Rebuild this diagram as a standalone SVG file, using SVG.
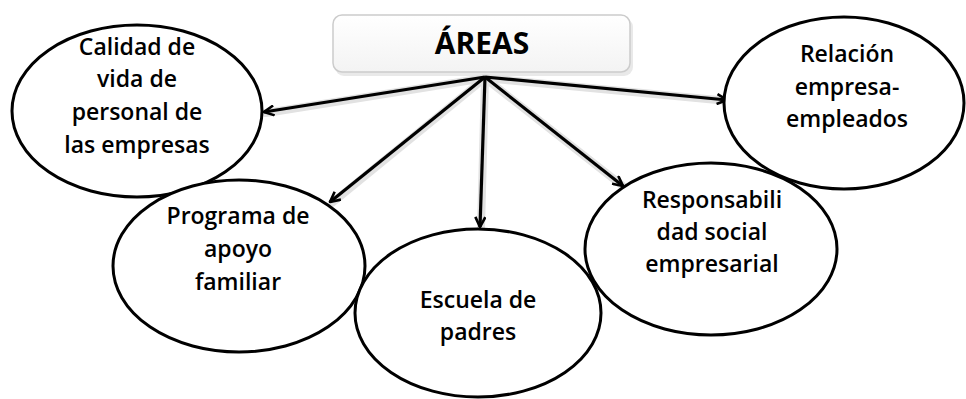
<svg xmlns="http://www.w3.org/2000/svg" width="966" height="399" viewBox="0 0 966 399">
<style>
.node ellipse{fill:#fff;stroke:#000;stroke-width:3}
.lbl{font-family:"Open Sans","Liberation Sans",sans-serif;font-weight:600;font-size:23px;fill:#000;text-anchor:middle}
.title{font-family:"Open Sans","Liberation Sans",sans-serif;font-weight:700;font-size:30px;fill:#000;text-anchor:middle}
.glow{stroke:#e2e2e2;stroke-width:8;fill:none;stroke-linecap:round}
.edge{stroke:#000;stroke-width:3.2;fill:none}
</style>
<defs>
<marker id="ah" viewBox="0 0 12 12" refX="11" refY="6" markerWidth="12" markerHeight="12" markerUnits="userSpaceOnUse" orient="auto">
<polyline points="1,1 11,6 1,11" fill="none" stroke="#000" stroke-width="2.6" stroke-linejoin="miter"/>
</marker>
<linearGradient id="boxg" x1="0" y1="0" x2="0" y2="1">
<stop offset="0" stop-color="#ffffff"/>
<stop offset="1" stop-color="#f3f3f3"/>
</linearGradient>
</defs>
<g id="areas">
<rect x="335" y="18" width="298" height="58" rx="9" fill="#e9e9e9"/>
<rect x="333" y="15" width="297" height="57" rx="9" fill="url(#boxg)" stroke="#cccccc" stroke-width="1.5"/>
<text class="title" x="482" y="54">ÁREAS</text>
</g>
<g id="connectors">
<g>
<line class="glow" x1="485" y1="78" x2="266" y2="113"/>
<line class="glow" x1="485" y1="78" x2="332" y2="203"/>
<line class="glow" x1="485" y1="78" x2="481" y2="228"/>
<line class="glow" x1="485" y1="78" x2="624" y2="187"/>
<line class="glow" x1="485" y1="78" x2="728" y2="101"/>
</g>
<line class="edge" x1="485" y1="77" x2="264" y2="112" marker-end="url(#ah)"/>
<line class="edge" x1="485" y1="77" x2="330" y2="202" marker-end="url(#ah)"/>
<line class="edge" x1="485" y1="77" x2="480" y2="227" marker-end="url(#ah)"/>
<line class="edge" x1="485" y1="77" x2="623" y2="186" marker-end="url(#ah)"/>
<line class="edge" x1="485" y1="77" x2="727" y2="100" marker-end="url(#ah)"/>
</g>
<g id="calidad" class="node">
<ellipse cx="137" cy="111" rx="125" ry="86"/>
<text class="lbl" x="137" y="55">Calidad de</text>
<text class="lbl" x="137" y="87">vida de</text>
<text class="lbl" x="137" y="120">personal de</text>
<text class="lbl" x="137" y="153">las empresas</text>
</g>
<g id="relacion" class="node">
<ellipse cx="844" cy="103" rx="120" ry="86"/>
<text class="lbl" x="847" y="62">Relación</text>
<text class="lbl" x="847" y="95">empresa-</text>
<text class="lbl" x="847" y="127">empleados</text>
</g>
<g id="programa" class="node">
<ellipse cx="239" cy="266" rx="126" ry="86"/>
<text class="lbl" x="238" y="224">Programa de</text>
<text class="lbl" x="238" y="257">apoyo</text>
<text class="lbl" x="238" y="290">familiar</text>
</g>
<g id="responsabilidad" class="node">
<ellipse cx="711" cy="249" rx="126" ry="86"/>
<text class="lbl" x="712" y="208">Responsabili</text>
<text class="lbl" x="712" y="240">dad social</text>
<text class="lbl" x="712" y="272">empresarial</text>
</g>
<g id="escuela" class="node">
<ellipse cx="478" cy="313" rx="123" ry="84"/>
<text class="lbl" x="478" y="308">Escuela de</text>
<text class="lbl" x="478" y="340">padres</text>
</g>
</svg>
